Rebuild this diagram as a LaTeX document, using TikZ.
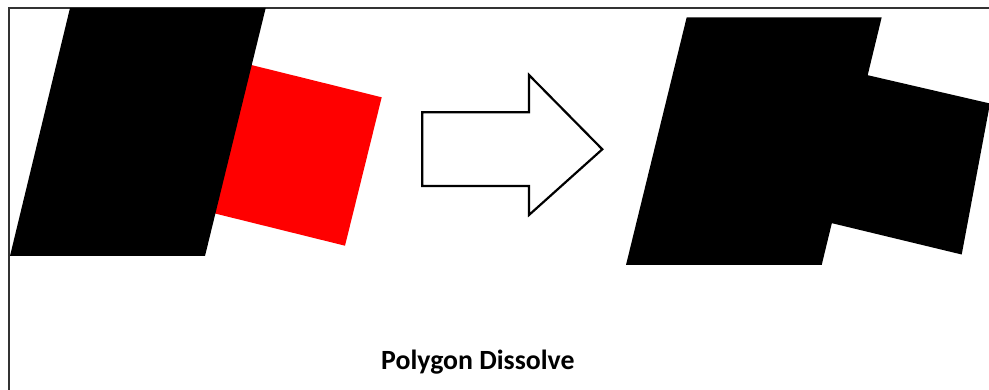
\documentclass[tikz,border=0pt]{standalone}
\usepackage{fontspec}
\setmainfont{Carlito}
\begin{document}
\begin{tikzpicture}[x=1pt,y=-1pt,
  frameline/.style={draw=black!80,line width=1.3pt},
  blockfill/.style={fill=black},
  redfill/.style={fill=red},
  bigarrow/.style={draw=black,fill=white,line width=2.2pt,line join=miter},
  caption/.style={font=\bfseries\fontsize{27.8}{32}\selectfont,inner sep=0pt,anchor=base west}]
\useasboundingbox (0,0) rectangle (989,390);
% frame
\draw[frameline] (9,392) -- (9,8) -- (992,8);
% left: red square behind black parallelogram
\fill[redfill] (233.2,60.5) -- (381.7,97.3) -- (345,245.7) -- (196.5,208.9) -- cycle;
\fill[blockfill] (70,8) -- (265.7,8) -- (205,256) -- (10,256) -- cycle;
% arrow
\draw[bigarrow] (422.3,112.3) -- (529,112.3) -- (529,75) -- (602.3,149.3)
  -- (529,215) -- (529,186) -- (422.3,186) -- cycle;
% right: dissolved shapes
\fill[blockfill] (850,71.1) -- (990,103.5) -- (961.7,254.5) -- (815,219.1) -- cycle;
\fill[blockfill] (686.7,17.3) -- (881.7,17.3) -- (821.7,265) -- (626,265) -- cycle;
% caption
\node[caption] (cap) at (381,369.5) {Polygon Dissolve};
\end{tikzpicture}
\end{document}
